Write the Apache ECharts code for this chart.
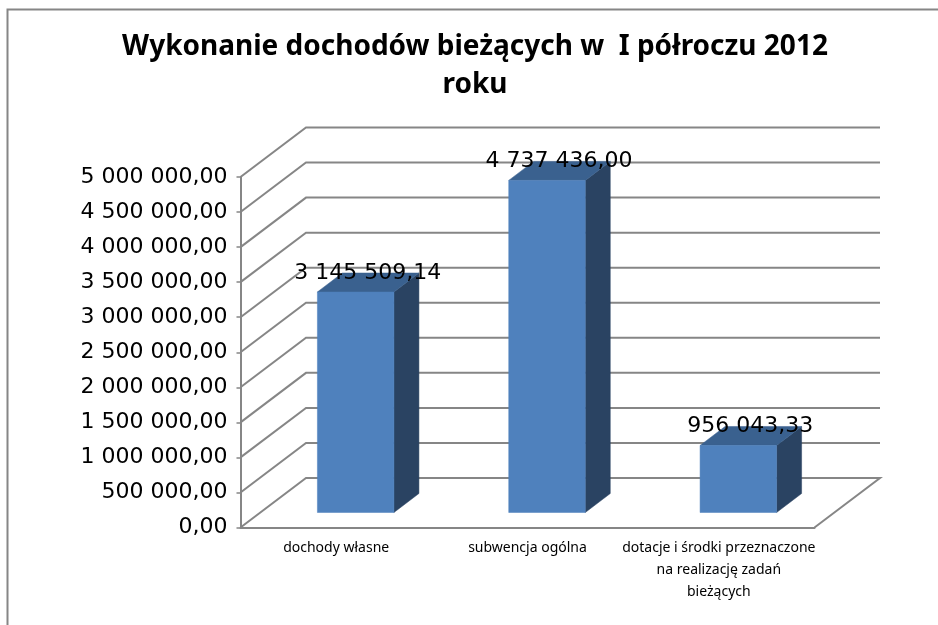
<!DOCTYPE html>
<html>
<head>
<meta charset="utf-8">
<title>Wykonanie dochodów bieżących</title>
<script src="https://cdn.jsdelivr.net/npm/echarts@6/dist/echarts.min.js"></script>
<style>
  html, body { margin: 0; padding: 0; background: #fff; }
  #main { width: 938px; height: 625px; }
</style>
</head>
<body>
<div id="main"></div>
<script>
var categories = ['dochody własne', 'subwencja ogólna', 'dotacje i środki przeznaczone\nna realizację zadań\nbieżących'];
var values = [3145509.14, 4737436.00, 956043.33];
var yTicks = [0, 500000, 1000000, 1500000, 2000000, 2500000, 3000000, 3500000, 4000000, 4500000, 5000000];
var yTickLabels = ['0,00', '500 000,00', '1 000 000,00', '1 500 000,00', '2 000 000,00', '2 500 000,00', '3 000 000,00', '3 500 000,00', '4 000 000,00', '4 500 000,00', '5 000 000,00'];
var titleText = 'Wykonanie dochodów bieżących w  I półroczu 2012\nroku';

// fake 3D: depth of the floor, then where the bar sits inside that depth
var WALL_DX = 65.5, WALL_DY = 49.5;
var BAR_OFF_X = 19.5, BAR_OFF_Y = 15;
var BAR_DX = 25, BAR_DY = 19;
var BAR_RATIO = 0.4;
var LINE = '#868686';

function valueLabel(v) {
    var parts = v.toFixed(2).split('.');
    return parts[0].replace(/\B(?=(\d{3})+$)/g, ' ') + ',' + parts[1];
}

function renderWall(params, api) {
    var cs = params.coordSys;
    var y = api.coord([0, api.value(1)])[1];
    var left = cs.x, right = cs.x + cs.width;
    var pts = [[left, y], [left + WALL_DX, y - WALL_DY], [right + WALL_DX, y - WALL_DY]];
    // the floor closes back to the front axis
    if (api.value(1) === 0) pts.push([right, y]);
    return {
        type: 'polyline',
        shape: { points: pts },
        style: { stroke: LINE, lineWidth: 2, fill: 'none' }
    };
}

function face(pts, color) {
    return {
        type: 'polygon',
        shape: { points: pts },
        style: { fill: color, stroke: color, lineWidth: 0.5 }
    };
}

function renderBar(params, api) {
    var i = api.value(0), v = api.value(1);
    var w = api.size([1, 0])[0] * BAR_RATIO;
    var top = api.coord([i, v]), base = api.coord([i, 0]);
    var x0 = top[0] - w / 2 + BAR_OFF_X, x1 = x0 + w;
    var y0 = top[1] - BAR_OFF_Y, y1 = base[1] - BAR_OFF_Y;
    return {
        type: 'group',
        children: [
            face([[x1, y0], [x1 + BAR_DX, y0 - BAR_DY], [x1 + BAR_DX, y1 - BAR_DY], [x1, y1]], '#2A4362'),
            face([[x0, y0], [x0 + BAR_DX, y0 - BAR_DY], [x1 + BAR_DX, y0 - BAR_DY], [x1, y0]], '#3A618F'),
            face([[x0, y0], [x1, y0], [x1, y1], [x0, y1]], '#4F81BD'),
            {
                type: 'text',
                z2: 10,
                style: {
                    x: (x0 + x1) / 2 + 12,
                    y: y0 - 19,
                    text: valueLabel(v),
                    textAlign: 'center',
                    textVerticalAlign: 'middle',
                    fill: '#000',
                    font: '22px "DejaVu Sans"'
                }
            }
        ]
    };
}

var myChart = echarts.init(document.getElementById('main'), null, { renderer: 'canvas' });
myChart.setOption({
    animation: false,
    backgroundColor: '#fff',
    title: {
        text: titleText,
        left: 470,
        top: 23,
        textAlign: 'center',
        textStyle: { fontFamily: 'Noto Sans', fontWeight: 'bold', fontSize: 28, lineHeight: 38, color: '#000' }
    },
    // chart frame, cut off at the right and bottom in the original
    graphic: [{
        type: 'polyline',
        silent: true,
        shape: { points: [[7.5, 625], [7.5, 9.5], [938, 9.5]] },
        style: { stroke: LINE, lineWidth: 2, fill: 'none' }
    }],
    grid: { left: 240.5, top: 177, width: 574, height: 350.5 },
    xAxis: {
        type: 'category',
        data: categories,
        axisLine: { lineStyle: { color: LINE, width: 2 } },
        axisTick: { length: 4, lineStyle: { color: LINE, width: 1.5 } },
        axisLabel: { interval: 0, margin: 10, fontFamily: 'Noto Sans', fontSize: 14, lineHeight: 22, color: '#000' }
    },
    yAxis: {
        type: 'value',
        min: 0,
        max: 5000000,
        interval: 500000,
        splitLine: { show: false },
        axisLine: { show: true, lineStyle: { color: LINE, width: 2 } },
        axisTick: { show: true, length: 4, lineStyle: { color: LINE, width: 1.5 } },
        axisLabel: {
            margin: 13,
            fontFamily: 'DejaVu Sans',
            fontSize: 22,
            color: '#000',
            formatter: function (v) { return yTickLabels[yTicks.indexOf(v)]; }
        }
    },
    series: [
        {
            type: 'custom',
            silent: true,
            z: 1,
            renderItem: renderWall,
            data: yTicks.map(function (t) { return [0, t]; })
        },
        {
            type: 'custom',
            silent: true,
            z: 2,
            renderItem: renderBar,
            data: values.map(function (v, i) { return [i, v]; })
        }
    ]
});
</script>
</body>
</html>
